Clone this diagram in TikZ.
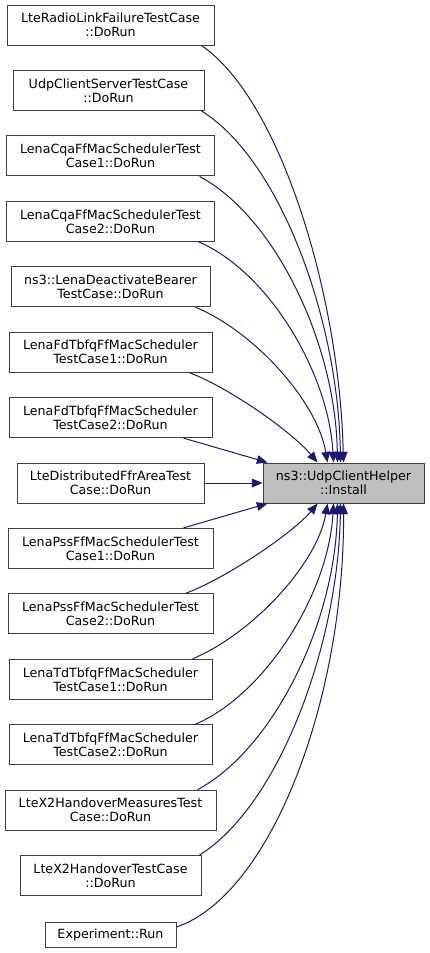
\documentclass[tikz,border=0pt]{standalone}
\usepackage{fontspec}
\setmainfont{DejaVu Sans}
\usepackage{xcolor}
\definecolor{edgeblue}{RGB}{25,25,112}
\definecolor{boxgray}{RGB}{64,64,64}
\definecolor{hlgray}{RGB}{191,191,191}
\usepackage{tikz}
\usetikzlibrary{arrows.meta,calc}

\begin{document}
\begin{tikzpicture}[
  x=0.75pt,y=-0.75pt,
  font=\fontsize{9.5}{10.5}\selectfont,
  fn/.style={draw=boxgray,line width=0.75pt,fill=white,align=center,inner sep=0pt,
    minimum height=30pt,minimum width=#1*0.75pt},
  cur/.style={fn=#1,fill=hlgray},
  call/.style={-{Triangle[length=8pt,width=6.5pt]},edgeblue,line width=0.75pt}
]
\useasboundingbox (0,0) rectangle (429,953);
% callers
\node[fn=207] (rlf)   at (110.5,25)    {LteRadioLinkFailureTestCase\\::DoRun};
\node[fn=191] (udpcs) at (108.5,90.4)  {UdpClientServerTestCase\\::DoRun};
\node[fn=208] (cqa1)  at (110.5,155.9) {LenaCqaFfMacSchedulerTest\\Case1::DoRun};
\node[fn=208] (cqa2)  at (110.5,221.3) {LenaCqaFfMacSchedulerTest\\Case2::DoRun};
\node[fn=199] (deact) at (110.5,286.7) {ns3::LenaDeactivateBearer\\TestCase::DoRun};
\node[fn=203] (fd1)   at (110.5,352.2) {LenaFdTbfqFfMacScheduler\\TestCase1::DoRun};
\node[fn=203] (fd2)   at (110.5,417.6) {LenaFdTbfqFfMacScheduler\\TestCase2::DoRun};
\node[fn=187] (ffr)   at (110.5,483)   {LteDistributedFfrAreaTest\\Case::DoRun};
\node[fn=205] (pss1)  at (110.5,548.4) {LenaPssFfMacSchedulerTest\\Case1::DoRun};
\node[fn=205] (pss2)  at (110.5,613.9) {LenaPssFfMacSchedulerTest\\Case2::DoRun};
\node[fn=203] (td1)   at (110.5,679.3) {LenaTdTbfqFfMacScheduler\\TestCase1::DoRun};
\node[fn=203] (td2)   at (110.5,744.7) {LenaTdTbfqFfMacScheduler\\TestCase2::DoRun};
\node[fn=211] (x2m)   at (110.5,810.2) {LteX2HandoverMeasuresTest\\Case::DoRun};
\node[fn=181] (x2)    at (110.5,875.6) {LteX2HandoverTestCase\\::DoRun};
\node[fn=131,minimum height=18.75pt] (exper) at (110.5,934.5) {Experiment::Run};
% callee
\node[cur=161] (inst) at (343.5,483) {ns3::UdpClientHelper\\::Install};
% calls from above
\draw[call] ($(rlf.south east)+(-13,0)$) .. controls +(79,54) and +(-4,-167) .. ($(inst.north west)+(81,0)$);
\draw[call] ($(udpcs.south east)+(-3,0)$) .. controls +(80,50) and +(-2,-140) .. ($(inst.north west)+(78,0)$);
\draw[call] ($(cqa1.south east)+(-15.5,0)$) .. controls +(75,40) and +(-2,-120) .. ($(inst.north west)+(75,0)$);
\draw[call] ($(cqa2.south east)+(-16.5,0)$) .. controls +(70,30) and +(-5,-90) .. ($(inst.north west)+(71,0)$);
\draw[call] ($(deact.south east)+(-15,0)$) .. controls +(60,25) and +(-10,-60) .. ($(inst.north west)+(65,0)$);
\draw[call] ($(fd1.south east)+(-23,0)$) .. controls +(40,15) and +(-25,-30) .. ($(inst.north west)+(55,0)$);
\draw[call] ($(fd2.south east)+(-29,0)$) -- ($(inst.north west)+(5,0)$);
\draw[call] (ffr) -- (inst);
% calls from below
\draw[call] ($(pss1.north east)+(-30,0)$) -- ($(inst.south west)+(5,0)$);
\draw[call] ($(pss2.north east)+(-28,0)$) .. controls +(40,-15) and +(-25,30) .. ($(inst.south west)+(55,0)$);
\draw[call] ($(td1.north east)+(-20,0)$) .. controls +(60,-25) and +(-10,60) .. ($(inst.south west)+(65,0)$);
\draw[call] ($(td2.north east)+(-17,0)$) .. controls +(70,-30) and +(-5,90) .. ($(inst.south west)+(71,0)$);
\draw[call] ($(x2m.north east)+(-19,0)$) .. controls +(75,-40) and +(-2,120) .. ($(inst.south west)+(75,0)$);
\draw[call] ($(x2.north east)+(-2,0)$) .. controls +(80,-50) and +(-2,140) .. ($(inst.south west)+(78,0)$);
\draw[call] ($(exper.east)+(0,-7.5)$) .. controls +(94,-32) and +(1,197) .. ($(inst.south west)+(81,0)$);
\end{tikzpicture}
\end{document}
